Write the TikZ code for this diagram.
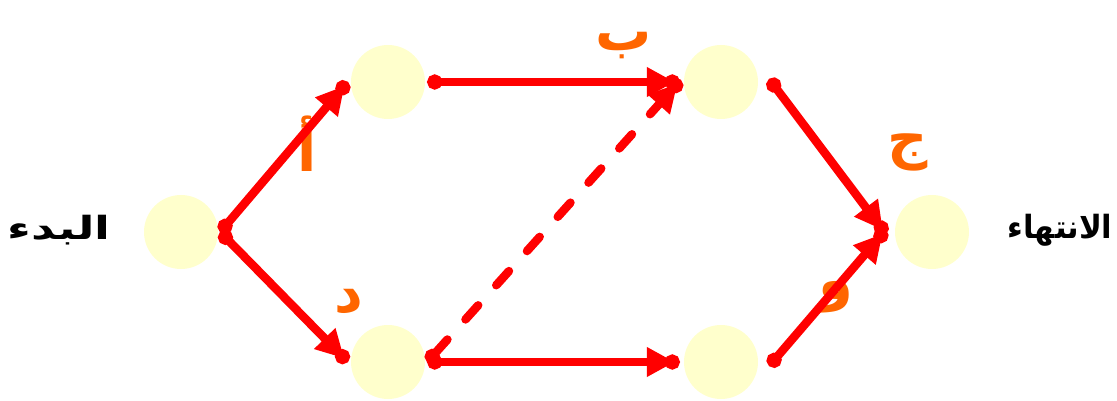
\documentclass[tikz,border=0pt]{standalone}
\usepackage{fontspec}
\usetikzlibrary{arrows.meta}
\TeXXeTstate=1
\newfontfamily\arabicfont[Script=Arabic]{DejaVu Sans}
\definecolor{nodefill}{HTML}{FFFFCC}
\definecolor{lbl}{HTML}{FF6600}
\begin{document}
\begin{tikzpicture}[x=1pt,y=-1pt,
  evt/.style={circle,fill=nodefill,minimum size=74pt,inner sep=0pt},
  act/.style={draw=red,line width=8.5pt,
    {Circle[length=15pt,width=15pt]}-{Triangle[length=28pt,width=28pt,sep=-10pt]Circle[length=15pt,width=15pt]}},
  dum/.style={act,line cap=round,dash pattern=on 19pt off 27pt},
  lab/.style={text=lbl,font=\arabicfont\bfseries\fontsize{56}{60}\selectfont,inner sep=0pt},
  term/.style={text=black,font=\arabicfont\bfseries\fontsize{32}{36}\selectfont,inner sep=0pt}]
\useasboundingbox (0,0) rectangle (1117,401);
\node[evt] (s) at (181,232) {};
\node[evt] (a) at (388,82) {};
\node[evt] (b) at (721,82) {};
\node[evt] (e) at (932,232) {};
\node[evt] (d) at (388,362) {};
\node[evt] (c) at (721,362) {};
\node[term,xscale=1.45] (ts) at (59,230) {\beginR البدء\endR};
\node[term,xscale=0.96] (te) at (1060,230) {\beginR الانتهاء\endR};
\node[lab] (la) at (307,144) {\beginR أ\endR};
\node[lab] (ld) at (349,302) {\beginR د\endR};
\node[lab] (lb) at (624,46) {\beginR ب\endR};
\node[lab] (lc) at (908,152) {\beginR ج\endR};
\node[lab] (lo) at (836,297) {\beginR و\endR};
\draw[act] ([xshift=2pt]s.east) -- ([xshift=-3pt]a.west);
\draw[act] ([xshift=2pt]s.east) -- ([xshift=-3pt]d.west);
\draw[act] ([xshift=2pt]a.east) -- ([xshift=-4pt]b.west);
\draw[dum] ([xshift=2pt]d.east) -- ([xshift=-3pt,yshift=2pt]b.west);
\draw[act] ([xshift=2pt]d.east) -- ([xshift=-4pt]c.west);
\draw[act] ([xshift=11pt,yshift=3pt]b.east) -- ([xshift=-9pt,yshift=-2pt]e.west);
\draw[act] ([xshift=11pt,yshift=-4pt]c.east) -- ([xshift=-9pt,yshift=2pt]e.west);
\end{tikzpicture}
\end{document}
